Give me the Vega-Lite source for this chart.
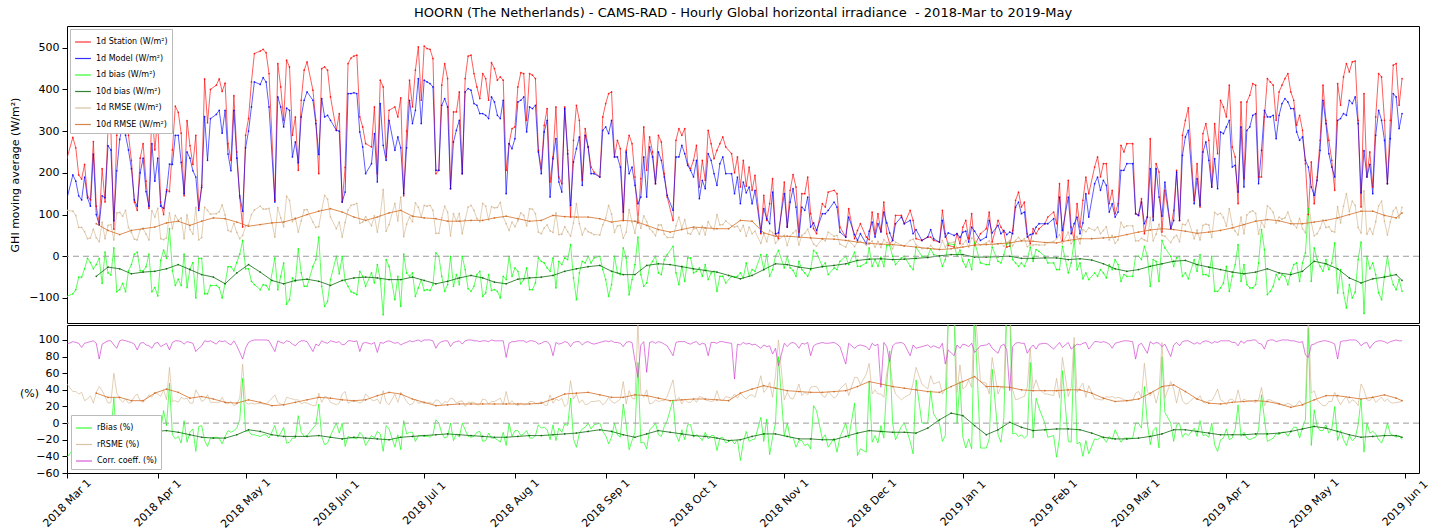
{
  "$schema": "https://vega.github.io/schema/vega-lite/v6.json",
  "padding": {"left": 9, "top": 6, "right": 0, "bottom": 0},
  "spacing": 0,
  "config": {
    "font": "DejaVu Sans",
    "view": {"stroke": "#000000", "strokeWidth": 1},
    "axis": {"domain": false, "grid": false, "tickColor": "#000000", "labelColor": "#000000", "labelFontSize": 11, "titleFontSize": 11, "titleFontWeight": "normal", "titleColor": "#000000", "tickSize": 5, "labelOverlap": false},
    "legend": {"labelFontSize": 8, "labelColor": "#000000"}
  },
  "datasets": {
    "daily": [
      {"d":"2018-03-01","s":235,"m":139,"b":-96,"r":110,"rb":-41,"rr":47,"c":95},
      {"d":"2018-03-03","s":285,"m":195,"b":-90,"r":108,"rb":-32,"rr":38,"c":98},
      {"d":"2018-03-04","s":260,"m":180,"b":-80,"r":98,"rb":-31,"rr":38,"c":97},
      {"d":"2018-03-05","s":195,"m":145,"b":-50,"r":69,"rb":-26,"rr":35,"c":96},
      {"d":"2018-03-06","s":185,"m":135,"b":-50,"r":69,"rb":-27,"rr":37,"c":91},
      {"d":"2018-03-07","s":220,"m":190,"b":-30,"r":59,"rb":-14,"rr":27,"c":96},
      {"d":"2018-03-08","s":145,"m":140,"b":-5,"r":42,"rb":-3,"rr":29,"c":97},
      {"d":"2018-03-09","s":135,"m":120,"b":-15,"r":44,"rb":-11,"rr":33,"c":98},
      {"d":"2018-03-10","s":275,"m":245,"b":-30,"r":65,"rb":-11,"rr":24,"c":99},
      {"d":"2018-03-11","s":120,"m":100,"b":-20,"r":44,"rb":-17,"rr":37,"c":96},
      {"d":"2018-03-12","s":80,"m":75,"b":-5,"r":35,"rb":-6,"rr":44,"c":77},
      {"d":"2018-03-13","s":210,"m":145,"b":-65,"r":82,"rb":-31,"rr":39,"c":95},
      {"d":"2018-03-14","s":130,"m":140,"b":10,"r":42,"rb":8,"rr":32,"c":97},
      {"d":"2018-03-15","s":305,"m":265,"b":-40,"r":74,"rb":-13,"rr":24,"c":99},
      {"d":"2018-03-16","s":300,"m":255,"b":-45,"r":76,"rb":-15,"rr":25,"c":99},
      {"d":"2018-03-17","s":65,"m":85,"b":20,"r":39,"rb":31,"rr":60,"c":94},
      {"d":"2018-03-18","s":290,"m":205,"b":-85,"r":104,"rb":-29,"rr":36,"c":90},
      {"d":"2018-03-19","s":360,"m":280,"b":-80,"r":105,"rb":-22,"rr":29,"c":99},
      {"d":"2018-03-20","s":380,"m":315,"b":-65,"r":96,"rb":-17,"rr":25,"c":100},
      {"d":"2018-03-21","s":375,"m":290,"b":-85,"r":110,"rb":-23,"rr":29,"c":99},
      {"d":"2018-03-22","s":290,"m":255,"b":-35,"r":69,"rb":-12,"rr":24,"c":98},
      {"d":"2018-03-23","s":230,"m":210,"b":-20,"r":57,"rb":-9,"rr":25,"c":97},
      {"d":"2018-03-24","s":130,"m":135,"b":5,"r":41,"rb":4,"rr":32,"c":95},
      {"d":"2018-03-25","s":110,"m":120,"b":10,"r":39,"rb":9,"rr":35,"c":88},
      {"d":"2018-03-26","s":235,"m":200,"b":-35,"r":64,"rb":-15,"rr":27,"c":96},
      {"d":"2018-03-27","s":270,"m":235,"b":-35,"r":67,"rb":-13,"rr":25,"c":97},
      {"d":"2018-03-28","s":180,"m":155,"b":-25,"r":53,"rb":-14,"rr":29,"c":94},
      {"d":"2018-03-29","s":115,"m":120,"b":5,"r":39,"rb":4,"rr":34,"c":93},
      {"d":"2018-03-30","s":355,"m":270,"b":-85,"r":109,"rb":-24,"rr":31,"c":90},
      {"d":"2018-03-31","s":255,"m":180,"b":-75,"r":94,"rb":-29,"rr":37,"c":96},
      {"d":"2018-04-01","s":330,"m":235,"b":-95,"r":115,"rb":-29,"rr":35,"c":97},
      {"d":"2018-04-02","s":130,"m":120,"b":-10,"r":42,"rb":-8,"rr":32,"c":92},
      {"d":"2018-04-03","s":100,"m":115,"b":15,"r":40,"rb":15,"rr":40,"c":94},
      {"d":"2018-04-04","s":160,"m":155,"b":-5,"r":44,"rb":-3,"rr":28,"c":96},
      {"d":"2018-04-05","s":155,"m":221,"b":66,"r":104,"rb":48,"rr":67,"c":88},
      {"d":"2018-04-06","s":255,"m":220,"b":-35,"r":66,"rb":-14,"rr":26,"c":97},
      {"d":"2018-04-07","s":360,"m":290,"b":-70,"r":98,"rb":-19,"rr":27,"c":99},
      {"d":"2018-04-08","s":345,"m":290,"b":-55,"r":86,"rb":-16,"rr":25,"c":99},
      {"d":"2018-04-09","s":295,"m":225,"b":-70,"r":92,"rb":-24,"rr":31,"c":98},
      {"d":"2018-04-10","s":145,"m":150,"b":5,"r":42,"rb":3,"rr":29,"c":95},
      {"d":"2018-04-11","s":325,"m":250,"b":-75,"r":99,"rb":-23,"rr":30,"c":98},
      {"d":"2018-04-12","s":265,"m":235,"b":-30,"r":64,"rb":-11,"rr":24,"c":97},
      {"d":"2018-04-13","s":220,"m":205,"b":-15,"r":53,"rb":-7,"rr":24,"c":96},
      {"d":"2018-04-14","s":290,"m":190,"b":-100,"r":117,"rb":-34,"rr":40,"c":86},
      {"d":"2018-04-15","s":115,"m":110,"b":-5,"r":39,"rb":-4,"rr":34,"c":90},
      {"d":"2018-04-16","s":170,"m":165,"b":-5,"r":45,"rb":-3,"rr":26,"c":93},
      {"d":"2018-04-17","s":425,"m":335,"b":-90,"r":118,"rb":-21,"rr":28,"c":99},
      {"d":"2018-04-18","s":320,"m":230,"b":-90,"r":110,"rb":-28,"rr":34,"c":98},
      {"d":"2018-04-19","s":400,"m":330,"b":-70,"r":101,"rb":-18,"rr":25,"c":99},
      {"d":"2018-04-21","s":410,"m":340,"b":-70,"r":102,"rb":-17,"rr":25,"c":95},
      {"d":"2018-04-22","s":425,"m":350,"b":-75,"r":107,"rb":-18,"rr":25,"c":99},
      {"d":"2018-04-23","s":395,"m":295,"b":-100,"r":123,"rb":-25,"rr":31,"c":98},
      {"d":"2018-04-24","s":415,"m":350,"b":-65,"r":99,"rb":-16,"rr":24,"c":99},
      {"d":"2018-04-25","s":270,"m":245,"b":-25,"r":62,"rb":-9,"rr":23,"c":96},
      {"d":"2018-04-26","s":230,"m":205,"b":-25,"r":59,"rb":-11,"rr":26,"c":94},
      {"d":"2018-04-27","s":385,"m":350,"b":-35,"r":79,"rb":-9,"rr":21,"c":99},
      {"d":"2018-04-28","s":250,"m":235,"b":-15,"r":57,"rb":-6,"rr":23,"c":93},
      {"d":"2018-04-29","s":140,"m":145,"b":5,"r":42,"rb":4,"rr":30,"c":85},
      {"d":"2018-04-30","s":70,"m":108,"b":38,"r":50,"rb":54,"rr":71,"c":77},
      {"d":"2018-05-01","s":290,"m":260,"b":-30,"r":72,"rb":-10,"rr":25,"c":90},
      {"d":"2018-05-02","s":330,"m":300,"b":-30,"r":76,"rb":-9,"rr":23,"c":97},
      {"d":"2018-05-03","s":418,"m":358,"b":-60,"r":100,"rb":-14,"rr":24,"c":99},
      {"d":"2018-05-04","s":486,"m":418,"b":-68,"r":111,"rb":-14,"rr":23,"c":100},
      {"d":"2018-05-06","s":492,"m":412,"b":-80,"r":120,"rb":-16,"rr":24,"c":100},
      {"d":"2018-05-07","s":496,"m":428,"b":-68,"r":113,"rb":-14,"rr":23,"c":100},
      {"d":"2018-05-08","s":488,"m":418,"b":-70,"r":113,"rb":-14,"rr":23,"c":100},
      {"d":"2018-05-09","s":438,"m":358,"b":-80,"r":115,"rb":-18,"rr":26,"c":99},
      {"d":"2018-05-11","s":134,"m":130,"b":-4,"r":46,"rb":-3,"rr":34,"c":86},
      {"d":"2018-05-12","s":462,"m":382,"b":-80,"r":117,"rb":-17,"rr":25,"c":99},
      {"d":"2018-05-13","s":406,"m":358,"b":-48,"r":92,"rb":-12,"rr":23,"c":97},
      {"d":"2018-05-14","s":326,"m":310,"b":-16,"r":71,"rb":-5,"rr":22,"c":96},
      {"d":"2018-05-15","s":470,"m":355,"b":-115,"r":144,"rb":-24,"rr":31,"c":99},
      {"d":"2018-05-16","s":454,"m":350,"b":-104,"r":134,"rb":-23,"rr":30,"c":98},
      {"d":"2018-05-17","s":290,"m":238,"b":-52,"r":83,"rb":-18,"rr":29,"c":95},
      {"d":"2018-05-18","s":334,"m":274,"b":-60,"r":92,"rb":-18,"rr":28,"c":93},
      {"d":"2018-05-19","s":206,"m":224,"b":18,"r":58,"rb":9,"rr":28,"c":97},
      {"d":"2018-05-20","s":374,"m":334,"b":-40,"r":85,"rb":-11,"rr":23,"c":99},
      {"d":"2018-05-21","s":446,"m":374,"b":-72,"r":111,"rb":-16,"rr":25,"c":99},
      {"d":"2018-05-22","s":466,"m":394,"b":-72,"r":112,"rb":-15,"rr":24,"c":98},
      {"d":"2018-05-24","s":398,"m":374,"b":-24,"r":82,"rb":-6,"rr":21,"c":86},
      {"d":"2018-05-25","s":326,"m":318,"b":-8,"r":69,"rb":-2,"rr":21,"c":95},
      {"d":"2018-05-26","s":198,"m":244,"b":46,"r":71,"rb":23,"rr":36,"c":93},
      {"d":"2018-05-27","s":450,"m":378,"b":-72,"r":111,"rb":-16,"rr":25,"c":99},
      {"d":"2018-05-28","s":454,"m":334,"b":-120,"r":146,"rb":-26,"rr":32,"c":97},
      {"d":"2018-05-29","s":446,"m":338,"b":-108,"r":137,"rb":-24,"rr":31,"c":96},
      {"d":"2018-05-30","s":382,"m":326,"b":-56,"r":94,"rb":-15,"rr":25,"c":99},
      {"d":"2018-06-01","s":302,"m":302,"b":0,"r":66,"rb":0,"rr":22,"c":97},
      {"d":"2018-06-02","s":342,"m":300,"b":-42,"r":82,"rb":-12,"rr":24,"c":98},
      {"d":"2018-06-03","s":130,"m":130,"b":0,"r":46,"rb":0,"rr":35,"c":94},
      {"d":"2018-06-04","s":213,"m":154,"b":-59,"r":81,"rb":-28,"rr":38,"c":95},
      {"d":"2018-06-05","s":462,"m":390,"b":-72,"r":111,"rb":-16,"rr":24,"c":99},
      {"d":"2018-06-06","s":475,"m":390,"b":-85,"r":122,"rb":-18,"rr":26,"c":99},
      {"d":"2018-06-07","s":480,"m":392,"b":-88,"r":124,"rb":-18,"rr":26,"c":98},
      {"d":"2018-06-08","s":482,"m":390,"b":-92,"r":127,"rb":-19,"rr":26,"c":99},
      {"d":"2018-06-09","s":334,"m":298,"b":-36,"r":79,"rb":-11,"rr":24,"c":86},
      {"d":"2018-06-10","s":310,"m":262,"b":-48,"r":82,"rb":-15,"rr":26,"c":96},
      {"d":"2018-06-11","s":270,"m":198,"b":-72,"r":95,"rb":-27,"rr":35,"c":97},
      {"d":"2018-06-13","s":262,"m":222,"b":-40,"r":73,"rb":-15,"rr":28,"c":95},
      {"d":"2018-06-14","s":358,"m":294,"b":-64,"r":97,"rb":-18,"rr":27,"c":97},
      {"d":"2018-06-15","s":198,"m":178,"b":-20,"r":58,"rb":-10,"rr":29,"c":85},
      {"d":"2018-06-16","s":422,"m":366,"b":-56,"r":98,"rb":-13,"rr":23,"c":97},
      {"d":"2018-06-17","s":406,"m":266,"b":-140,"r":160,"rb":-34,"rr":39,"c":96},
      {"d":"2018-06-18","s":238,"m":230,"b":-8,"r":60,"rb":-3,"rr":25,"c":98},
      {"d":"2018-06-19","s":350,"m":326,"b":-24,"r":76,"rb":-7,"rr":22,"c":99},
      {"d":"2018-06-21","s":358,"m":254,"b":-104,"r":127,"rb":-29,"rr":35,"c":96},
      {"d":"2018-06-22","s":334,"m":286,"b":-48,"r":85,"rb":-14,"rr":25,"c":97},
      {"d":"2018-06-23","s":380,"m":260,"b":-120,"r":142,"rb":-32,"rr":37,"c":94},
      {"d":"2018-06-24","s":145,"m":150,"b":5,"r":47,"rb":3,"rr":32,"c":96},
      {"d":"2018-06-25","s":300,"m":260,"b":-40,"r":77,"rb":-13,"rr":26,"c":97},
      {"d":"2018-06-26","s":422,"m":374,"b":-48,"r":94,"rb":-11,"rr":22,"c":99},
      {"d":"2018-06-27","s":358,"m":318,"b":-40,"r":83,"rb":-11,"rr":23,"c":98},
      {"d":"2018-06-28","s":446,"m":350,"b":-96,"r":128,"rb":-22,"rr":29,"c":99},
      {"d":"2018-06-29","s":502,"m":426,"b":-76,"r":118,"rb":-15,"rr":24,"c":100},
      {"d":"2018-06-30","s":374,"m":318,"b":-56,"r":94,"rb":-15,"rr":25,"c":98},
      {"d":"2018-07-01","s":504,"m":422,"b":-82,"r":122,"rb":-16,"rr":24,"c":100},
      {"d":"2018-07-02","s":498,"m":418,"b":-80,"r":120,"rb":-16,"rr":24,"c":100},
      {"d":"2018-07-03","s":496,"m":414,"b":-82,"r":122,"rb":-17,"rr":25,"c":100},
      {"d":"2018-07-04","s":474,"m":406,"b":-68,"r":110,"rb":-14,"rr":23,"c":99},
      {"d":"2018-07-05","s":198,"m":206,"b":8,"r":55,"rb":4,"rr":28,"c":90},
      {"d":"2018-07-06","s":206,"m":206,"b":0,"r":55,"rb":0,"rr":27,"c":96},
      {"d":"2018-07-07","s":410,"m":362,"b":-48,"r":92,"rb":-12,"rr":22,"c":98},
      {"d":"2018-07-08","s":462,"m":378,"b":-84,"r":120,"rb":-18,"rr":26,"c":99},
      {"d":"2018-07-09","s":426,"m":358,"b":-68,"r":106,"rb":-16,"rr":25,"c":99},
      {"d":"2018-07-10","s":162,"m":162,"b":0,"r":49,"rb":0,"rr":30,"c":92},
      {"d":"2018-07-11","s":346,"m":274,"b":-72,"r":102,"rb":-21,"rr":29,"c":97},
      {"d":"2018-07-12","s":346,"m":302,"b":-44,"r":84,"rb":-13,"rr":24,"c":98},
      {"d":"2018-07-13","s":394,"m":326,"b":-68,"r":103,"rb":-17,"rr":26,"c":99},
      {"d":"2018-07-14","s":198,"m":198,"b":0,"r":54,"rb":0,"rr":27,"c":95},
      {"d":"2018-07-15","s":426,"m":394,"b":-32,"r":87,"rb":-8,"rr":20,"c":99},
      {"d":"2018-07-16","s":480,"m":402,"b":-78,"r":118,"rb":-16,"rr":25,"c":100},
      {"d":"2018-07-17","s":482,"m":398,"b":-84,"r":122,"rb":-17,"rr":25,"c":100},
      {"d":"2018-07-18","s":438,"m":366,"b":-72,"r":110,"rb":-16,"rr":25,"c":99},
      {"d":"2018-07-19","s":406,"m":362,"b":-44,"r":90,"rb":-11,"rr":22,"c":99},
      {"d":"2018-07-20","s":378,"m":342,"b":-36,"r":83,"rb":-10,"rr":22,"c":98},
      {"d":"2018-07-21","s":438,"m":342,"b":-96,"r":127,"rb":-22,"rr":29,"c":99},
      {"d":"2018-07-22","s":426,"m":338,"b":-88,"r":120,"rb":-21,"rr":28,"c":99},
      {"d":"2018-07-23","s":374,"m":330,"b":-44,"r":87,"rb":-12,"rr":23,"c":98},
      {"d":"2018-07-24","s":464,"m":382,"b":-82,"r":119,"rb":-18,"rr":26,"c":100},
      {"d":"2018-07-25","s":450,"m":370,"b":-80,"r":116,"rb":-18,"rr":26,"c":99},
      {"d":"2018-07-26","s":422,"m":338,"b":-84,"r":117,"rb":-20,"rr":28,"c":99},
      {"d":"2018-07-27","s":430,"m":330,"b":-100,"r":129,"rb":-23,"rr":30,"c":99},
      {"d":"2018-07-28","s":422,"m":374,"b":-48,"r":94,"rb":-11,"rr":22,"c":99},
      {"d":"2018-07-29","s":206,"m":150,"b":-56,"r":78,"rb":-27,"rr":38,"c":79},
      {"d":"2018-07-30","s":270,"m":270,"b":0,"r":62,"rb":0,"rr":23,"c":96},
      {"d":"2018-07-31","s":306,"m":258,"b":-48,"r":82,"rb":-16,"rr":27,"c":98},
      {"d":"2018-08-01","s":310,"m":282,"b":-28,"r":71,"rb":-9,"rr":23,"c":98},
      {"d":"2018-08-02","s":406,"m":370,"b":-36,"r":85,"rb":-9,"rr":21,"c":99},
      {"d":"2018-08-03","s":440,"m":374,"b":-66,"r":104,"rb":-15,"rr":24,"c":99},
      {"d":"2018-08-04","s":438,"m":382,"b":-56,"r":98,"rb":-13,"rr":22,"c":99},
      {"d":"2018-08-05","s":326,"m":298,"b":-28,"r":73,"rb":-9,"rr":22,"c":97},
      {"d":"2018-08-06","s":438,"m":358,"b":-80,"r":114,"rb":-18,"rr":26,"c":99},
      {"d":"2018-08-07","s":434,"m":354,"b":-80,"r":113,"rb":-18,"rr":26,"c":99},
      {"d":"2018-08-08","s":426,"m":362,"b":-64,"r":102,"rb":-15,"rr":24,"c":98},
      {"d":"2018-08-09","s":254,"m":250,"b":-4,"r":58,"rb":-2,"rr":23,"c":95},
      {"d":"2018-08-10","s":210,"m":198,"b":-12,"r":54,"rb":-6,"rr":26,"c":96},
      {"d":"2018-08-11","s":314,"m":298,"b":-16,"r":68,"rb":-5,"rr":22,"c":98},
      {"d":"2018-08-12","s":354,"m":326,"b":-28,"r":75,"rb":-8,"rr":21,"c":98},
      {"d":"2018-08-13","s":178,"m":142,"b":-36,"r":61,"rb":-20,"rr":34,"c":94},
      {"d":"2018-08-14","s":238,"m":234,"b":-4,"r":57,"rb":-2,"rr":24,"c":81},
      {"d":"2018-08-15","s":358,"m":282,"b":-76,"r":104,"rb":-21,"rr":29,"c":97},
      {"d":"2018-08-16","s":190,"m":178,"b":-12,"r":52,"rb":-6,"rr":27,"c":95},
      {"d":"2018-08-17","s":174,"m":154,"b":-20,"r":53,"rb":-11,"rr":30,"c":96},
      {"d":"2018-08-18","s":358,"m":354,"b":-4,"r":71,"rb":-1,"rr":20,"c":98},
      {"d":"2018-08-19","s":254,"m":246,"b":-8,"r":59,"rb":-3,"rr":23,"c":97},
      {"d":"2018-08-20","s":94,"m":122,"b":28,"r":48,"rb":30,"rr":51,"c":92},
      {"d":"2018-08-21","s":278,"m":226,"b":-52,"r":80,"rb":-19,"rr":29,"c":97},
      {"d":"2018-08-22","s":362,"m":258,"b":-104,"r":126,"rb":-29,"rr":35,"c":98},
      {"d":"2018-08-23","s":326,"m":286,"b":-40,"r":78,"rb":-12,"rr":24,"c":98},
      {"d":"2018-08-24","s":182,"m":170,"b":-12,"r":51,"rb":-7,"rr":28,"c":94},
      {"d":"2018-08-25","s":306,"m":290,"b":-16,"r":67,"rb":-5,"rr":22,"c":97},
      {"d":"2018-08-26","s":262,"m":262,"b":0,"r":59,"rb":0,"rr":23,"c":98},
      {"d":"2018-08-27","s":214,"m":198,"b":-16,"r":56,"rb":-7,"rr":26,"c":96},
      {"d":"2018-08-28","s":202,"m":198,"b":-4,"r":52,"rb":-2,"rr":26,"c":95},
      {"d":"2018-08-30","s":190,"m":190,"b":0,"r":51,"rb":0,"rr":27,"c":97},
      {"d":"2018-08-31","s":334,"m":302,"b":-32,"r":75,"rb":-10,"rr":22,"c":98},
      {"d":"2018-09-01","s":366,"m":310,"b":-56,"r":91,"rb":-15,"rr":25,"c":99},
      {"d":"2018-09-02","s":390,"m":294,"b":-96,"r":122,"rb":-25,"rr":31,"c":98},
      {"d":"2018-09-03","s":394,"m":326,"b":-68,"r":101,"rb":-17,"rr":26,"c":99},
      {"d":"2018-09-04","s":238,"m":238,"b":0,"r":57,"rb":0,"rr":24,"c":97},
      {"d":"2018-09-05","s":278,"m":238,"b":-40,"r":73,"rb":-14,"rr":26,"c":97},
      {"d":"2018-09-06","s":258,"m":214,"b":-44,"r":74,"rb":-17,"rr":29,"c":96},
      {"d":"2018-09-07","s":86,"m":106,"b":20,"r":43,"rb":23,"rr":50,"c":92},
      {"d":"2018-09-08","s":254,"m":250,"b":-4,"r":58,"rb":-2,"rr":23,"c":97},
      {"d":"2018-09-09","s":290,"m":198,"b":-92,"r":112,"rb":-32,"rr":39,"c":98},
      {"d":"2018-09-10","s":270,"m":214,"b":-56,"r":82,"rb":-21,"rr":30,"c":97},
      {"d":"2018-09-11","s":190,"m":170,"b":-20,"r":55,"rb":-11,"rr":29,"c":75},
      {"d":"2018-09-12","s":80,"m":126,"b":46,"r":96,"rb":73,"rr":120,"c":55},
      {"d":"2018-09-13","s":186,"m":142,"b":-44,"r":67,"rb":-24,"rr":36,"c":94},
      {"d":"2018-09-14","s":310,"m":238,"b":-72,"r":97,"rb":-23,"rr":31,"c":98},
      {"d":"2018-09-15","s":206,"m":142,"b":-64,"r":83,"rb":-31,"rr":40,"c":61},
      {"d":"2018-09-16","s":286,"m":262,"b":-24,"r":66,"rb":-8,"rr":23,"c":97},
      {"d":"2018-09-17","s":250,"m":238,"b":-12,"r":59,"rb":-5,"rr":24,"c":98},
      {"d":"2018-09-18","s":174,"m":174,"b":0,"r":49,"rb":0,"rr":28,"c":96},
      {"d":"2018-09-19","s":290,"m":250,"b":-40,"r":75,"rb":-14,"rr":26,"c":98},
      {"d":"2018-09-20","s":274,"m":230,"b":-44,"r":75,"rb":-16,"rr":27,"c":97},
      {"d":"2018-09-21","s":198,"m":190,"b":-8,"r":53,"rb":-4,"rr":27,"c":95},
      {"d":"2018-09-22","s":142,"m":146,"b":4,"r":45,"rb":3,"rr":32,"c":93},
      {"d":"2018-09-24","s":86,"m":110,"b":24,"r":45,"rb":28,"rr":52,"c":81},
      {"d":"2018-09-25","s":278,"m":238,"b":-40,"r":73,"rb":-14,"rr":26,"c":97},
      {"d":"2018-09-26","s":306,"m":238,"b":-68,"r":94,"rb":-22,"rr":31,"c":98},
      {"d":"2018-09-27","s":290,"m":266,"b":-24,"r":67,"rb":-8,"rr":23,"c":98},
      {"d":"2018-09-28","s":306,"m":246,"b":-60,"r":88,"rb":-20,"rr":29,"c":98},
      {"d":"2018-09-29","s":222,"m":218,"b":-4,"r":55,"rb":-2,"rr":25,"c":96},
      {"d":"2018-09-30","s":210,"m":206,"b":-4,"r":53,"rb":-2,"rr":25,"c":95},
      {"d":"2018-10-01","s":230,"m":190,"b":-40,"r":66,"rb":-17,"rr":29,"c":97},
      {"d":"2018-10-02","s":266,"m":230,"b":-36,"r":67,"rb":-14,"rr":25,"c":98},
      {"d":"2018-10-03","s":166,"m":138,"b":-28,"r":53,"rb":-17,"rr":32,"c":94},
      {"d":"2018-10-04","s":230,"m":182,"b":-48,"r":72,"rb":-21,"rr":31,"c":96},
      {"d":"2018-10-05","s":182,"m":162,"b":-20,"r":51,"rb":-11,"rr":28,"c":95},
      {"d":"2018-10-06","s":302,"m":246,"b":-56,"r":83,"rb":-19,"rr":27,"c":81},
      {"d":"2018-10-07","s":270,"m":230,"b":-40,"r":70,"rb":-15,"rr":26,"c":97},
      {"d":"2018-10-08","s":234,"m":198,"b":-36,"r":64,"rb":-15,"rr":27,"c":97},
      {"d":"2018-10-09","s":254,"m":170,"b":-84,"r":100,"rb":-33,"rr":39,"c":96},
      {"d":"2018-10-10","s":270,"m":222,"b":-48,"r":75,"rb":-18,"rr":28,"c":98},
      {"d":"2018-10-11","s":286,"m":238,"b":-48,"r":76,"rb":-17,"rr":27,"c":98},
      {"d":"2018-10-12","s":262,"m":198,"b":-64,"r":85,"rb":-24,"rr":32,"c":97},
      {"d":"2018-10-14","s":246,"m":198,"b":-48,"r":73,"rb":-20,"rr":30,"c":96},
      {"d":"2018-10-15","s":200,"m":150,"b":-50,"r":70,"rb":-25,"rr":35,"c":53},
      {"d":"2018-10-16","s":238,"m":190,"b":-48,"r":72,"rb":-20,"rr":30,"c":95},
      {"d":"2018-10-17","s":166,"m":126,"b":-40,"r":60,"rb":-45,"rr":36,"c":94},
      {"d":"2018-10-18","s":230,"m":178,"b":-52,"r":74,"rb":-23,"rr":32,"c":97},
      {"d":"2018-10-19","s":168,"m":152,"b":-16,"r":48,"rb":-10,"rr":29,"c":95},
      {"d":"2018-10-20","s":214,"m":166,"b":-48,"r":70,"rb":-22,"rr":33,"c":96},
      {"d":"2018-10-21","s":158,"m":126,"b":-32,"r":54,"rb":-20,"rr":34,"c":94},
      {"d":"2018-10-22","s":194,"m":158,"b":-36,"r":60,"rb":-19,"rr":31,"c":95},
      {"d":"2018-10-24","s":54,"m":58,"b":4,"r":31,"rb":7,"rr":57,"c":90},
      {"d":"2018-10-25","s":146,"m":114,"b":-32,"r":54,"rb":-22,"rr":37,"c":94},
      {"d":"2018-10-26","s":86,"m":90,"b":4,"r":35,"rb":5,"rr":41,"c":92},
      {"d":"2018-10-27","s":126,"m":78,"b":-48,"r":62,"rb":-38,"rr":49,"c":93},
      {"d":"2018-10-28","s":186,"m":154,"b":-32,"r":57,"rb":-17,"rr":31,"c":83},
      {"d":"2018-10-29","s":54,"m":54,"b":0,"r":31,"rb":0,"rr":57,"c":90},
      {"d":"2018-10-30","s":42,"m":56,"b":14,"r":40,"rb":80,"rr":100,"c":69},
      {"d":"2018-11-01","s":178,"m":150,"b":-28,"r":50,"rb":-16,"rr":28,"c":96},
      {"d":"2018-11-02","s":70,"m":70,"b":0,"r":26,"rb":0,"rr":37,"c":92},
      {"d":"2018-11-03","s":158,"m":130,"b":-28,"r":48,"rb":-18,"rr":30,"c":96},
      {"d":"2018-11-04","s":196,"m":162,"b":-34,"r":56,"rb":-17,"rr":29,"c":97},
      {"d":"2018-11-05","s":166,"m":118,"b":-48,"r":62,"rb":-29,"rr":37,"c":95},
      {"d":"2018-11-06","s":58,"m":46,"b":-12,"r":27,"rb":-21,"rr":47,"c":90},
      {"d":"2018-11-07","s":150,"m":118,"b":-32,"r":50,"rb":-21,"rr":33,"c":96},
      {"d":"2018-11-08","s":150,"m":110,"b":-40,"r":55,"rb":-27,"rr":37,"c":95},
      {"d":"2018-11-09","s":190,"m":142,"b":-48,"r":65,"rb":-25,"rr":34,"c":97},
      {"d":"2018-11-10","s":102,"m":70,"b":-32,"r":44,"rb":-31,"rr":43,"c":81},
      {"d":"2018-11-11","s":66,"m":80,"b":14,"r":29,"rb":21,"rr":44,"c":93},
      {"d":"2018-11-12","s":54,"m":62,"b":8,"r":24,"rb":15,"rr":44,"c":95},
      {"d":"2018-11-14","s":126,"m":102,"b":-24,"r":42,"rb":-19,"rr":33,"c":97},
      {"d":"2018-11-15","s":118,"m":102,"b":-16,"r":37,"rb":-14,"rr":31,"c":96},
      {"d":"2018-11-16","s":154,"m":110,"b":-44,"r":58,"rb":-29,"rr":38,"c":96},
      {"d":"2018-11-18","s":158,"m":130,"b":-28,"r":48,"rb":-18,"rr":30,"c":97},
      {"d":"2018-11-19","s":150,"m":118,"b":-32,"r":50,"rb":-35,"rr":33,"c":95},
      {"d":"2018-11-20","s":70,"m":58,"b":-12,"r":29,"rb":-17,"rr":41,"c":92},
      {"d":"2018-11-22","s":46,"m":46,"b":0,"r":22,"rb":0,"rr":48,"c":71},
      {"d":"2018-11-23","s":114,"m":94,"b":-20,"r":38,"rb":-18,"rr":33,"c":96},
      {"d":"2018-11-25","s":42,"m":52,"b":10,"r":23,"rb":24,"rr":55,"c":90},
      {"d":"2018-11-26","s":62,"m":38,"b":-24,"r":34,"rb":-39,"rr":55,"c":93},
      {"d":"2018-11-27","s":78,"m":54,"b":-24,"r":36,"rb":-31,"rr":46,"c":94},
      {"d":"2018-11-29","s":46,"m":30,"b":-16,"r":27,"rb":-35,"rr":59,"c":92},
      {"d":"2018-11-30","s":40,"m":60,"b":20,"r":29,"rb":50,"rr":72,"c":88},
      {"d":"2018-12-01","s":106,"m":82,"b":-24,"r":37,"rb":-23,"rr":35,"c":96},
      {"d":"2018-12-02","s":54,"m":46,"b":-8,"r":22,"rb":-15,"rr":40,"c":93},
      {"d":"2018-12-03","s":102,"m":78,"b":-24,"r":36,"rb":-24,"rr":35,"c":95},
      {"d":"2018-12-04","s":60,"m":58,"b":-2,"r":21,"rb":-3,"rr":35,"c":43},
      {"d":"2018-12-05","s":130,"m":106,"b":-24,"r":40,"rb":-18,"rr":31,"c":97},
      {"d":"2018-12-06","s":54,"m":80,"b":26,"r":33,"rb":48,"rr":61,"c":92},
      {"d":"2018-12-07","s":30,"m":56,"b":26,"r":31,"rb":87,"rr":75,"c":74},
      {"d":"2018-12-08","s":38,"m":38,"b":0,"r":18,"rb":0,"rr":47,"c":93},
      {"d":"2018-12-09","s":98,"m":78,"b":-20,"r":34,"rb":-20,"rr":35,"c":96},
      {"d":"2018-12-11","s":98,"m":94,"b":-4,"r":27,"rb":-4,"rr":28,"c":97},
      {"d":"2018-12-12","s":78,"m":78,"b":0,"r":24,"rb":0,"rr":31,"c":95},
      {"d":"2018-12-14","s":110,"m":86,"b":-24,"r":38,"rb":-22,"rr":35,"c":81},
      {"d":"2018-12-15","s":86,"m":54,"b":-32,"r":41,"rb":-37,"rr":48,"c":94},
      {"d":"2018-12-16","s":42,"m":64,"b":22,"r":28,"rb":52,"rr":67,"c":90},
      {"d":"2018-12-18","s":38,"m":38,"b":0,"r":18,"rb":0,"rr":47,"c":92},
      {"d":"2018-12-20","s":46,"m":46,"b":0,"r":19,"rb":0,"rr":41,"c":94},
      {"d":"2018-12-21","s":46,"m":64,"b":18,"r":26,"rb":39,"rr":57,"c":91},
      {"d":"2018-12-22","s":38,"m":42,"b":4,"r":18,"rb":11,"rr":47,"c":93},
      {"d":"2018-12-24","s":34,"m":34,"b":0,"r":17,"rb":0,"rr":50,"c":90},
      {"d":"2018-12-25","s":110,"m":86,"b":-24,"r":38,"rb":-22,"rr":35,"c":96},
      {"d":"2018-12-26","s":54,"m":46,"b":-8,"r":22,"rb":-15,"rr":41,"c":71},
      {"d":"2018-12-27","s":26,"m":56,"b":30,"r":33,"rb":125,"rr":127,"c":88},
      {"d":"2018-12-29","s":22,"m":50,"b":28,"r":34,"rb":127,"rr":155,"c":81},
      {"d":"2018-12-30","s":54,"m":54,"b":0,"r":20,"rb":0,"rr":37,"c":94},
      {"d":"2018-12-31","s":30,"m":45,"b":15,"r":21,"rb":50,"rr":70,"c":90},
      {"d":"2019-01-01","s":70,"m":58,"b":-12,"r":29,"rb":-17,"rr":41,"c":95},
      {"d":"2019-01-02","s":86,"m":60,"b":-26,"r":38,"rb":-30,"rr":44,"c":94},
      {"d":"2019-01-03","s":42,"m":34,"b":-8,"r":22,"rb":-19,"rr":52,"c":92},
      {"d":"2019-01-04","s":102,"m":70,"b":-32,"r":44,"rb":-31,"rr":43,"c":96},
      {"d":"2019-01-05","s":26,"m":60,"b":34,"r":38,"rb":131,"rr":146,"c":85},
      {"d":"2019-01-07","s":54,"m":38,"b":-16,"r":27,"rb":-30,"rr":50,"c":93},
      {"d":"2019-01-09","s":66,"m":46,"b":-20,"r":32,"rb":-30,"rr":48,"c":94},
      {"d":"2019-01-10","s":106,"m":86,"b":-20,"r":37,"rb":-19,"rr":35,"c":96},
      {"d":"2019-01-11","s":34,"m":56,"b":22,"r":27,"rb":65,"rr":79,"c":90},
      {"d":"2019-01-13","s":86,"m":74,"b":-12,"r":30,"rb":-14,"rr":35,"c":84},
      {"d":"2019-01-14","s":70,"m":54,"b":-16,"r":31,"rb":-23,"rr":44,"c":93},
      {"d":"2019-01-15","s":58,"m":62,"b":4,"r":24,"rb":7,"rr":41,"c":95},
      {"d":"2019-01-16","s":22,"m":52,"b":30,"r":33,"rb":136,"rr":150,"c":88},
      {"d":"2019-01-17","s":24,"m":58,"b":34,"r":38,"rb":142,"rr":158,"c":39},
      {"d":"2019-01-18","s":62,"m":54,"b":-8,"r":25,"rb":-13,"rr":40,"c":92},
      {"d":"2019-01-19","s":134,"m":118,"b":-16,"r":38,"rb":-12,"rr":28,"c":96},
      {"d":"2019-01-20","s":154,"m":130,"b":-24,"r":45,"rb":-16,"rr":29,"c":97},
      {"d":"2019-01-21","s":118,"m":102,"b":-16,"r":37,"rb":-14,"rr":31,"c":96},
      {"d":"2019-01-22","s":130,"m":106,"b":-24,"r":42,"rb":-18,"rr":32,"c":96},
      {"d":"2019-01-23","s":54,"m":46,"b":-8,"r":23,"rb":-15,"rr":43,"c":84},
      {"d":"2019-01-24","s":30,"m":52,"b":22,"r":27,"rb":73,"rr":90,"c":90},
      {"d":"2019-01-25","s":66,"m":54,"b":-12,"r":27,"rb":-18,"rr":41,"c":94},
      {"d":"2019-01-26","s":54,"m":70,"b":16,"r":28,"rb":30,"rr":52,"c":89},
      {"d":"2019-01-27","s":66,"m":78,"b":12,"r":27,"rb":18,"rr":41,"c":95},
      {"d":"2019-01-29","s":78,"m":78,"b":0,"r":27,"rb":0,"rr":35,"c":96},
      {"d":"2019-01-30","s":94,"m":78,"b":-16,"r":33,"rb":-17,"rr":35,"c":95},
      {"d":"2019-02-01","s":106,"m":90,"b":-16,"r":35,"rb":-15,"rr":33,"c":89},
      {"d":"2019-02-02","s":78,"m":46,"b":-32,"r":42,"rb":-41,"rr":54,"c":93},
      {"d":"2019-02-03","s":174,"m":142,"b":-32,"r":52,"rb":-18,"rr":30,"c":97},
      {"d":"2019-02-04","s":38,"m":62,"b":24,"r":30,"rb":63,"rr":79,"c":91},
      {"d":"2019-02-06","s":182,"m":142,"b":-40,"r":58,"rb":-22,"rr":32,"c":97},
      {"d":"2019-02-07","s":70,"m":54,"b":-16,"r":30,"rb":-23,"rr":43,"c":89},
      {"d":"2019-02-08","s":40,"m":78,"b":38,"r":41,"rb":95,"rr":103,"c":92},
      {"d":"2019-02-09","s":126,"m":94,"b":-32,"r":47,"rb":-25,"rr":37,"c":95},
      {"d":"2019-02-10","s":70,"m":54,"b":-16,"r":30,"rb":-23,"rr":43,"c":94},
      {"d":"2019-02-11","s":134,"m":80,"b":-54,"r":64,"rb":-40,"rr":48,"c":96},
      {"d":"2019-02-12","s":190,"m":150,"b":-40,"r":59,"rb":-21,"rr":31,"c":97},
      {"d":"2019-02-13","s":150,"m":94,"b":-56,"r":68,"rb":-37,"rr":45,"c":89},
      {"d":"2019-02-15","s":214,"m":174,"b":-40,"r":62,"rb":-19,"rr":29,"c":98},
      {"d":"2019-02-16","s":238,"m":190,"b":-48,"r":70,"rb":-20,"rr":29,"c":98},
      {"d":"2019-02-17","s":190,"m":158,"b":-32,"r":54,"rb":-17,"rr":28,"c":97},
      {"d":"2019-02-18","s":222,"m":182,"b":-40,"r":62,"rb":-18,"rr":28,"c":98},
      {"d":"2019-02-19","s":222,"m":170,"b":-52,"r":71,"rb":-23,"rr":32,"c":97},
      {"d":"2019-02-20","s":126,"m":106,"b":-20,"r":39,"rb":-16,"rr":31,"c":95},
      {"d":"2019-02-21","s":158,"m":126,"b":-32,"r":50,"rb":-20,"rr":32,"c":90},
      {"d":"2019-02-22","s":102,"m":94,"b":-8,"r":31,"rb":-8,"rr":30,"c":96},
      {"d":"2019-02-23","s":126,"m":106,"b":-20,"r":39,"rb":-16,"rr":31,"c":97},
      {"d":"2019-02-24","s":266,"m":206,"b":-60,"r":81,"rb":-23,"rr":30,"c":98},
      {"d":"2019-02-25","s":250,"m":206,"b":-44,"r":69,"rb":-18,"rr":28,"c":99},
      {"d":"2019-02-26","s":270,"m":222,"b":-48,"r":73,"rb":-18,"rr":27,"c":99},
      {"d":"2019-02-28","s":270,"m":222,"b":-48,"r":73,"rb":-18,"rr":27,"c":98},
      {"d":"2019-03-01","s":102,"m":102,"b":0,"r":37,"rb":0,"rr":36,"c":77},
      {"d":"2019-03-02","s":98,"m":98,"b":0,"r":37,"rb":0,"rr":38,"c":94},
      {"d":"2019-03-03","s":138,"m":130,"b":-8,"r":43,"rb":-6,"rr":31,"c":96},
      {"d":"2019-03-04","s":54,"m":78,"b":24,"r":39,"rb":44,"rr":72,"c":90},
      {"d":"2019-03-05","s":94,"m":94,"b":0,"r":36,"rb":0,"rr":38,"c":84},
      {"d":"2019-03-06","s":282,"m":210,"b":-72,"r":93,"rb":-26,"rr":33,"c":98},
      {"d":"2019-03-07","s":94,"m":86,"b":-8,"r":37,"rb":-9,"rr":39,"c":95},
      {"d":"2019-03-08","s":222,"m":210,"b":-12,"r":53,"rb":-5,"rr":24,"c":97},
      {"d":"2019-03-09","s":202,"m":142,"b":-60,"r":77,"rb":-30,"rr":38,"c":96},
      {"d":"2019-03-10","s":58,"m":96,"b":38,"r":50,"rb":80,"rr":97,"c":92},
      {"d":"2019-03-11","s":158,"m":178,"b":20,"r":48,"rb":13,"rr":30,"c":95},
      {"d":"2019-03-13","s":66,"m":66,"b":0,"r":33,"rb":0,"rr":50,"c":80},
      {"d":"2019-03-14","s":110,"m":86,"b":-24,"r":45,"rb":-22,"rr":41,"c":94},
      {"d":"2019-03-15","s":206,"m":202,"b":-4,"r":50,"rb":-2,"rr":24,"c":97},
      {"d":"2019-03-16","s":86,"m":86,"b":0,"r":35,"rb":0,"rr":41,"c":93},
      {"d":"2019-03-17","s":290,"m":242,"b":-48,"r":77,"rb":-17,"rr":27,"c":98},
      {"d":"2019-03-18","s":326,"m":286,"b":-40,"r":75,"rb":-12,"rr":23,"c":99},
      {"d":"2019-03-19","s":356,"m":302,"b":-54,"r":87,"rb":-15,"rr":24,"c":99},
      {"d":"2019-03-21","s":134,"m":126,"b":-8,"r":42,"rb":-6,"rr":31,"c":95},
      {"d":"2019-03-22","s":222,"m":186,"b":-36,"r":63,"rb":-16,"rr":28,"c":97},
      {"d":"2019-03-23","s":118,"m":122,"b":4,"r":39,"rb":3,"rr":33,"c":95},
      {"d":"2019-03-24","s":294,"m":250,"b":-44,"r":74,"rb":-15,"rr":25,"c":98},
      {"d":"2019-03-25","s":318,"m":274,"b":-44,"r":77,"rb":-14,"rr":24,"c":99},
      {"d":"2019-03-26","s":278,"m":230,"b":-48,"r":75,"rb":-17,"rr":27,"c":98},
      {"d":"2019-03-27","s":166,"m":166,"b":0,"r":45,"rb":0,"rr":27,"c":96},
      {"d":"2019-03-28","s":318,"m":234,"b":-84,"r":105,"rb":-26,"rr":33,"c":98},
      {"d":"2019-03-29","s":246,"m":162,"b":-84,"r":100,"rb":-34,"rr":41,"c":97},
      {"d":"2019-03-30","s":374,"m":298,"b":-76,"r":103,"rb":-20,"rr":28,"c":99},
      {"d":"2019-03-31","s":358,"m":294,"b":-64,"r":93,"rb":-18,"rr":26,"c":99},
      {"d":"2019-04-01","s":334,"m":310,"b":-24,"r":72,"rb":-7,"rr":22,"c":99},
      {"d":"2019-04-02","s":410,"m":326,"b":-84,"r":114,"rb":-20,"rr":28,"c":99},
      {"d":"2019-04-03","s":262,"m":214,"b":-48,"r":76,"rb":-18,"rr":29,"c":97},
      {"d":"2019-04-04","s":238,"m":218,"b":-20,"r":60,"rb":-8,"rr":25,"c":97},
      {"d":"2019-04-05","s":126,"m":154,"b":28,"r":51,"rb":22,"rr":40,"c":93},
      {"d":"2019-04-06","s":370,"m":310,"b":-60,"r":94,"rb":-16,"rr":25,"c":99},
      {"d":"2019-04-07","s":186,"m":166,"b":-20,"r":54,"rb":-11,"rr":29,"c":96},
      {"d":"2019-04-08","s":370,"m":302,"b":-68,"r":99,"rb":-18,"rr":27,"c":99},
      {"d":"2019-04-09","s":386,"m":310,"b":-76,"r":106,"rb":-20,"rr":27,"c":99},
      {"d":"2019-04-10","s":414,"m":338,"b":-76,"r":109,"rb":-18,"rr":26,"c":100},
      {"d":"2019-04-11","s":410,"m":342,"b":-68,"r":103,"rb":-17,"rr":25,"c":100},
      {"d":"2019-04-12","s":190,"m":174,"b":-16,"r":53,"rb":-8,"rr":28,"c":96},
      {"d":"2019-04-13","s":190,"m":254,"b":64,"r":82,"rb":34,"rr":43,"c":95},
      {"d":"2019-04-14","s":334,"m":350,"b":16,"r":70,"rb":5,"rr":21,"c":89},
      {"d":"2019-04-15","s":426,"m":334,"b":-92,"r":121,"rb":-22,"rr":28,"c":99},
      {"d":"2019-04-16","s":418,"m":334,"b":-84,"r":115,"rb":-20,"rr":28,"c":100},
      {"d":"2019-04-17","s":410,"m":338,"b":-72,"r":105,"rb":-18,"rr":26,"c":100},
      {"d":"2019-04-18","s":326,"m":282,"b":-44,"r":80,"rb":-13,"rr":25,"c":98},
      {"d":"2019-04-19","s":394,"m":338,"b":-56,"r":94,"rb":-14,"rr":24,"c":99},
      {"d":"2019-04-20","s":410,"m":366,"b":-44,"r":89,"rb":-11,"rr":22,"c":100},
      {"d":"2019-04-21","s":426,"m":378,"b":-48,"r":92,"rb":-11,"rr":22,"c":100},
      {"d":"2019-04-22","s":438,"m":370,"b":-68,"r":106,"rb":-16,"rr":24,"c":100},
      {"d":"2019-04-23","s":394,"m":354,"b":-40,"r":85,"rb":-10,"rr":22,"c":99},
      {"d":"2019-04-24","s":374,"m":354,"b":-20,"r":76,"rb":-5,"rr":20,"c":99},
      {"d":"2019-04-25","s":314,"m":298,"b":-16,"r":68,"rb":-5,"rr":22,"c":98},
      {"d":"2019-04-26","s":338,"m":278,"b":-60,"r":91,"rb":-18,"rr":27,"c":97},
      {"d":"2019-04-27","s":302,"m":286,"b":-16,"r":66,"rb":-5,"rr":22,"c":98},
      {"d":"2019-04-28","s":222,"m":230,"b":8,"r":56,"rb":4,"rr":25,"c":82},
      {"d":"2019-04-29","s":100,"m":214,"b":114,"r":129,"rb":114,"rr":129,"c":79},
      {"d":"2019-04-30","s":226,"m":166,"b":-60,"r":81,"rb":-27,"rr":36,"c":94},
      {"d":"2019-05-01","s":126,"m":146,"b":20,"r":49,"rb":16,"rr":39,"c":95},
      {"d":"2019-05-02","s":190,"m":182,"b":-8,"r":54,"rb":-4,"rr":28,"c":97},
      {"d":"2019-05-03","s":278,"m":254,"b":-24,"r":67,"rb":-9,"rr":24,"c":98},
      {"d":"2019-05-04","s":410,"m":374,"b":-36,"r":87,"rb":-9,"rr":21,"c":99},
      {"d":"2019-05-05","s":326,"m":318,"b":-8,"r":69,"rb":-2,"rr":21,"c":99},
      {"d":"2019-05-06","s":278,"m":246,"b":-32,"r":71,"rb":-12,"rr":26,"c":98},
      {"d":"2019-05-07","s":230,"m":214,"b":-16,"r":60,"rb":-7,"rr":26,"c":97},
      {"d":"2019-05-08","s":158,"m":190,"b":32,"r":58,"rb":20,"rr":37,"c":95},
      {"d":"2019-05-09","s":414,"m":326,"b":-88,"r":119,"rb":-21,"rr":29,"c":77},
      {"d":"2019-05-10","s":362,"m":330,"b":-32,"r":80,"rb":-9,"rr":22,"c":98},
      {"d":"2019-05-11","s":430,"m":342,"b":-88,"r":120,"rb":-20,"rr":28,"c":99},
      {"d":"2019-05-12","s":462,"m":338,"b":-124,"r":150,"rb":-27,"rr":32,"c":99},
      {"d":"2019-05-13","s":442,"m":374,"b":-68,"r":107,"rb":-15,"rr":24,"c":100},
      {"d":"2019-05-14","s":466,"m":366,"b":-100,"r":132,"rb":-21,"rr":28,"c":100},
      {"d":"2019-05-15","s":468,"m":382,"b":-86,"r":122,"rb":-18,"rr":26,"c":100},
      {"d":"2019-05-16","s":326,"m":318,"b":-8,"r":69,"rb":-2,"rr":21,"c":98},
      {"d":"2019-05-17","s":118,"m":152,"b":34,"r":56,"rb":29,"rr":47,"c":93},
      {"d":"2019-05-18","s":390,"m":253,"b":-137,"r":157,"rb":-35,"rr":40,"c":96},
      {"d":"2019-05-19","s":190,"m":190,"b":0,"r":53,"rb":0,"rr":28,"c":97},
      {"d":"2019-05-20","s":250,"m":220,"b":-30,"r":67,"rb":-12,"rr":27,"c":90},
      {"d":"2019-05-21","s":166,"m":150,"b":-16,"r":53,"rb":-10,"rr":32,"c":95},
      {"d":"2019-05-22","s":334,"m":290,"b":-44,"r":83,"rb":-13,"rr":25,"c":98},
      {"d":"2019-05-23","s":438,"m":350,"b":-88,"r":121,"rb":-20,"rr":28,"c":99},
      {"d":"2019-05-24","s":430,"m":326,"b":-104,"r":132,"rb":-24,"rr":31,"c":99},
      {"d":"2019-05-25","s":326,"m":278,"b":-48,"r":84,"rb":-15,"rr":26,"c":98},
      {"d":"2019-05-26","s":174,"m":174,"b":0,"r":51,"rb":0,"rr":29,"c":96},
      {"d":"2019-05-27","s":326,"m":282,"b":-44,"r":82,"rb":-13,"rr":25,"c":98},
      {"d":"2019-05-28","s":458,"m":390,"b":-68,"r":109,"rb":-15,"rr":24,"c":99},
      {"d":"2019-05-29","s":462,"m":382,"b":-80,"r":117,"rb":-17,"rr":25,"c":100},
      {"d":"2019-05-30","s":362,"m":306,"b":-56,"r":92,"rb":-15,"rr":25,"c":99},
      {"d":"2019-05-31","s":426,"m":342,"b":-84,"r":117,"rb":-20,"rr":27,"c":99}
    ],
    "ten": [
      {"d":"2018-03-11","b10":-48,"r10":78,"rb10":-17,"rr10":36},
      {"d":"2018-03-15","b10":-26,"r10":62,"rb10":-15,"rr10":31},
      {"d":"2018-03-19","b10":-30,"r10":52,"rb10":-14,"rr10":31},
      {"d":"2018-03-23","b10":-42,"r10":62,"rb10":-15,"rr10":27},
      {"d":"2018-03-27","b10":-38,"r10":66,"rb10":-13,"rr10":27},
      {"d":"2018-03-31","b10":-36,"r10":70,"rb10":-10,"rr10":36},
      {"d":"2018-04-04","b10":-30,"r10":80,"rb10":-9,"rr10":41},
      {"d":"2018-04-08","b10":-20,"r10":84,"rb10":-11,"rr10":37},
      {"d":"2018-04-12","b10":-32,"r10":74,"rb10":-14,"rr10":30},
      {"d":"2018-04-16","b10":-44,"r10":84,"rb10":-17,"rr10":32},
      {"d":"2018-04-20","b10":-50,"r10":92,"rb10":-18,"rr10":29},
      {"d":"2018-04-24","b10":-66,"r10":90,"rb10":-18,"rr10":25},
      {"d":"2018-04-28","b10":-40,"r10":82,"rb10":-14,"rr10":24},
      {"d":"2018-05-02","b10":-20,"r10":72,"rb10":-8,"rr10":28},
      {"d":"2018-05-06","b10":-38,"r10":76,"rb10":-10,"rr10":25},
      {"d":"2018-05-10","b10":-58,"r10":80,"rb10":-14,"rr10":21},
      {"d":"2018-05-14","b10":-66,"r10":82,"rb10":-16,"rr10":22},
      {"d":"2018-05-18","b10":-58,"r10":90,"rb10":-16,"rr10":25},
      {"d":"2018-05-22","b10":-55,"r10":100,"rb10":-16,"rr10":28},
      {"d":"2018-05-26","b10":-60,"r10":108,"rb10":-15,"rr10":31},
      {"d":"2018-05-30","b10":-70,"r10":114,"rb10":-17,"rr10":30},
      {"d":"2018-06-03","b10":-58,"r10":106,"rb10":-19,"rr10":28},
      {"d":"2018-06-07","b10":-52,"r10":94,"rb10":-17,"rr10":27},
      {"d":"2018-06-11","b10":-50,"r10":86,"rb10":-18,"rr10":28},
      {"d":"2018-06-15","b10":-52,"r10":94,"rb10":-19,"rr10":33},
      {"d":"2018-06-19","b10":-56,"r10":104,"rb10":-20,"rr10":37},
      {"d":"2018-06-23","b10":-56,"r10":110,"rb10":-17,"rr10":35},
      {"d":"2018-06-27","b10":-50,"r10":96,"rb10":-16,"rr10":29},
      {"d":"2018-07-01","b10":-58,"r10":92,"rb10":-15,"rr10":25},
      {"d":"2018-07-05","b10":-66,"r10":90,"rb10":-14,"rr10":21},
      {"d":"2018-07-09","b10":-60,"r10":84,"rb10":-13,"rr10":22},
      {"d":"2018-07-13","b10":-52,"r10":84,"rb10":-14,"rr10":23},
      {"d":"2018-07-17","b10":-46,"r10":86,"rb10":-15,"rr10":23},
      {"d":"2018-07-21","b10":-52,"r10":86,"rb10":-16,"rr10":23},
      {"d":"2018-07-25","b10":-62,"r10":92,"rb10":-17,"rr10":23},
      {"d":"2018-07-29","b10":-66,"r10":96,"rb10":-17,"rr10":23},
      {"d":"2018-08-02","b10":-55,"r10":90,"rb10":-16,"rr10":23},
      {"d":"2018-08-06","b10":-52,"r10":84,"rb10":-15,"rr10":23},
      {"d":"2018-08-10","b10":-50,"r10":86,"rb10":-15,"rr10":24},
      {"d":"2018-08-14","b10":-46,"r10":98,"rb10":-14,"rr10":29},
      {"d":"2018-08-18","b10":-36,"r10":95,"rb10":-13,"rr10":35},
      {"d":"2018-08-22","b10":-30,"r10":94,"rb10":-12,"rr10":36},
      {"d":"2018-08-26","b10":-25,"r10":94,"rb10":-10,"rr10":37},
      {"d":"2018-08-30","b10":-22,"r10":90,"rb10":-8,"rr10":34},
      {"d":"2018-09-03","b10":-36,"r10":82,"rb10":-10,"rr10":31},
      {"d":"2018-09-07","b10":-44,"r10":86,"rb10":-14,"rr10":31},
      {"d":"2018-09-11","b10":-44,"r10":84,"rb10":-17,"rr10":34},
      {"d":"2018-09-15","b10":-22,"r10":74,"rb10":-13,"rr10":33},
      {"d":"2018-09-19","b10":-18,"r10":64,"rb10":-9,"rr10":30},
      {"d":"2018-09-23","b10":-20,"r10":58,"rb10":-11,"rr10":27},
      {"d":"2018-09-27","b10":-25,"r10":64,"rb10":-13,"rr10":28},
      {"d":"2018-10-01","b10":-30,"r10":70,"rb10":-15,"rr10":29},
      {"d":"2018-10-05","b10":-34,"r10":68,"rb10":-16,"rr10":29},
      {"d":"2018-10-09","b10":-38,"r10":66,"rb10":-18,"rr10":28},
      {"d":"2018-10-13","b10":-46,"r10":66,"rb10":-21,"rr10":27},
      {"d":"2018-10-17","b10":-54,"r10":86,"rb10":-20,"rr10":36},
      {"d":"2018-10-21","b10":-46,"r10":84,"rb10":-16,"rr10":41},
      {"d":"2018-10-25","b10":-32,"r10":56,"rb10":-13,"rr10":45},
      {"d":"2018-10-29","b10":-18,"r10":48,"rb10":-13,"rr10":42},
      {"d":"2018-11-02","b10":-20,"r10":48,"rb10":-16,"rr10":39},
      {"d":"2018-11-06","b10":-26,"r10":46,"rb10":-19,"rr10":38},
      {"d":"2018-11-10","b10":-30,"r10":44,"rb10":-19,"rr10":37},
      {"d":"2018-11-14","b10":-25,"r10":42,"rb10":-20,"rr10":37},
      {"d":"2018-11-18","b10":-22,"r10":41,"rb10":-20,"rr10":38},
      {"d":"2018-11-22","b10":-18,"r10":38,"rb10":-16,"rr10":39},
      {"d":"2018-11-26","b10":-10,"r10":34,"rb10":-12,"rr10":44},
      {"d":"2018-11-30","b10":-7,"r10":31,"rb10":-9,"rr10":50},
      {"d":"2018-12-04","b10":-6,"r10":29,"rb10":-10,"rr10":47},
      {"d":"2018-12-08","b10":-8,"r10":28,"rb10":-11,"rr10":44},
      {"d":"2018-12-12","b10":-7,"r10":25,"rb10":-11,"rr10":42},
      {"d":"2018-12-16","b10":-5,"r10":22,"rb10":-12,"rr10":40},
      {"d":"2018-12-20","b10":-3,"r10":19,"rb10":-6,"rr10":38},
      {"d":"2018-12-24","b10":1,"r10":16,"rb10":4,"rr10":37},
      {"d":"2018-12-28","b10":4,"r10":18,"rb10":12,"rr10":44},
      {"d":"2019-01-01","b10":4,"r10":22,"rb10":9,"rr10":50},
      {"d":"2019-01-05","b10":-2,"r10":27,"rb10":-3,"rr10":56},
      {"d":"2019-01-09","b10":-2,"r10":28,"rb10":-14,"rr10":44},
      {"d":"2019-01-13","b10":-1,"r10":30,"rb10":-8,"rr10":44},
      {"d":"2019-01-17","b10":0,"r10":32,"rb10":1,"rr10":43},
      {"d":"2019-01-21","b10":-5,"r10":37,"rb10":-5,"rr10":40},
      {"d":"2019-01-25","b10":-5,"r10":36,"rb10":-9,"rr10":39},
      {"d":"2019-01-29","b10":-4,"r10":33,"rb10":-8,"rr10":39},
      {"d":"2019-02-02","b10":-4,"r10":32,"rb10":-7,"rr10":39},
      {"d":"2019-02-06","b10":-8,"r10":38,"rb10":-7,"rr10":40},
      {"d":"2019-02-10","b10":-6,"r10":42,"rb10":-8,"rr10":40},
      {"d":"2019-02-14","b10":-9,"r10":42,"rb10":-12,"rr10":36},
      {"d":"2019-02-18","b10":-18,"r10":44,"rb10":-17,"rr10":30},
      {"d":"2019-02-22","b10":-30,"r10":46,"rb10":-19,"rr10":26},
      {"d":"2019-02-26","b10":-36,"r10":52,"rb10":-19,"rr10":27},
      {"d":"2019-03-02","b10":-32,"r10":58,"rb10":-18,"rr10":29},
      {"d":"2019-03-06","b10":-24,"r10":63,"rb10":-16,"rr10":36},
      {"d":"2019-03-10","b10":-18,"r10":66,"rb10":-13,"rr10":44},
      {"d":"2019-03-14","b10":-12,"r10":64,"rb10":-8,"rr10":46},
      {"d":"2019-03-18","b10":-10,"r10":60,"rb10":-8,"rr10":38},
      {"d":"2019-03-22","b10":-20,"r10":55,"rb10":-10,"rr10":29},
      {"d":"2019-03-26","b10":-26,"r10":58,"rb10":-12,"rr10":24},
      {"d":"2019-03-30","b10":-32,"r10":62,"rb10":-14,"rr10":23},
      {"d":"2019-04-03","b10":-38,"r10":68,"rb10":-14,"rr10":25},
      {"d":"2019-04-07","b10":-42,"r10":76,"rb10":-14,"rr10":26},
      {"d":"2019-04-11","b10":-38,"r10":84,"rb10":-13,"rr10":27},
      {"d":"2019-04-15","b10":-30,"r10":88,"rb10":-13,"rr10":26},
      {"d":"2019-04-19","b10":-40,"r10":85,"rb10":-12,"rr10":23},
      {"d":"2019-04-23","b10":-44,"r10":78,"rb10":-10,"rr10":19},
      {"d":"2019-04-27","b10":-36,"r10":78,"rb10":-7,"rr10":22},
      {"d":"2019-05-01","b10":-12,"r10":82,"rb10":-4,"rr10":28},
      {"d":"2019-05-05","b10":-18,"r10":86,"rb10":-6,"rr10":33},
      {"d":"2019-05-09","b10":-30,"r10":92,"rb10":-10,"rr10":33},
      {"d":"2019-05-13","b10":-52,"r10":100,"rb10":-14,"rr10":31},
      {"d":"2019-05-17","b10":-64,"r10":108,"rb10":-17,"rr10":29},
      {"d":"2019-05-21","b10":-54,"r10":108,"rb10":-16,"rr10":31},
      {"d":"2019-05-25","b10":-50,"r10":98,"rb10":-15,"rr10":34},
      {"d":"2019-05-29","b10":-44,"r10":92,"rb10":-15,"rr10":30},
      {"d":"2019-05-31","b10":-58,"r10":104,"rb10":-17,"rr10":27}
    ]
  },
  "resolve": {"scale": {"color": "independent", "x": "independent", "y": "independent"}, "legend": {"color": "independent"}},
  "vconcat": [
    {
      "width": 1352,
      "height": 297,
      "title": {"text": "HOORN (The Netherlands) - CAMS-RAD - Hourly Global horizontal irradiance \u00a0- 2018-Mar to 2019-May", "fontSize": 13, "fontWeight": "normal", "anchor": "middle", "frame": "group", "offset": 6, "color": "#000000"},
      "layer": [
        {
          "data": {"name": "daily"},
          "transform": [{"fold": ["s", "m", "b", "r"], "as": ["key", "v"]}],
          "mark": {"type": "line", "strokeWidth": 0.8, "opacity": 0.8, "clip": true, "point": {"size": 3, "opacity": 0.8}},
          "encoding": {
            "x": {"field": "d", "type": "temporal", "scale": {"type": "utc", "domain": [{"year": 2018, "month": 3, "date": 1, "utc": true}, {"year": 2019, "month": 6, "date": 5, "hours": 19, "utc": true}]}, "axis": null},
            "y": {"field": "v", "type": "quantitative", "scale": {"domain": [-160, 552], "nice": false, "zero": false}, "axis": {"values": [-100, 0, 100, 200, 300, 400, 500], "title": "GHI moving average (W/m²)", "titlePadding": 8, "labelPadding": 3, "labelOverlap": false}},
            "color": {
              "field": "key", "type": "nominal",
              "scale": {"domain": ["s", "m", "b", "b10", "r", "r10"], "range": ["#ff0000", "#0000ff", "#00ff00", "#006400", "#d2b48c", "#d2691e"]},
              "legend": {"orient": "top-left", "offset": 3, "title": null, "labelFontSize": 8, "symbolType": "stroke", "symbolSize": 250, "symbolStrokeWidth": 1.2, "fillColor": "#ffffff", "strokeColor": "#bbbbbb", "padding": 4, "rowPadding": 3.5, "labelLimit": 200,
                "labelExpr": "datum.label == 's' ? '1d Station (W/m²)' : datum.label == 'm' ? '1d Model (W/m²)' : datum.label == 'b' ? '1d bias (W/m²)' : datum.label == 'b10' ? '10d bias (W/m²)' : datum.label == 'r' ? '1d RMSE (W/m²)' : '10d RMSE (W/m²)'"}
            }
          }
        },
        {
          "data": {"name": "ten"},
          "transform": [{"fold": ["b10", "r10"], "as": ["key", "v"]}],
          "mark": {"type": "line", "strokeWidth": 0.9, "opacity": 0.85, "clip": true, "point": {"size": 3, "opacity": 0.85}},
          "encoding": {
            "x": {"field": "d", "type": "temporal"},
            "y": {"field": "v", "type": "quantitative"},
            "color": {"field": "key", "type": "nominal"}
          }
        },
        {
          "data": {"values": [{}]},
          "mark": {"type": "rule", "color": "#9a9a9a", "strokeDash": [6, 4], "strokeWidth": 1},
          "encoding": {"y": {"datum": 0, "type": "quantitative"}}
        }
      ]
    },
    {
      "width": 1352,
      "height": 148,
      "transform": [],
      "layer": [
        {
          "data": {"name": "daily"},
          "transform": [{"fold": ["rb", "rr", "c"], "as": ["key", "v"]}],
          "mark": {"type": "line", "strokeWidth": 0.8, "opacity": 0.8, "clip": true},
          "encoding": {
            "x": {"field": "d", "type": "temporal", "scale": {"type": "utc", "domain": [{"year": 2018, "month": 3, "date": 1, "utc": true}, {"year": 2019, "month": 6, "date": 5, "hours": 19, "utc": true}]},
              "axis": {"title": null, "labelExpr": "utcFormat(datum.value, '%Y %b %-d')", "labelAngle": -45, "labelAlign": "center", "labelBaseline": "middle", "labelPadding": 25, "labelOverlap": false, "labelFontSize": 11,
                "values": [
                  {"year": 2018, "month": 3, "date": 1, "utc": true}, {"year": 2018, "month": 4, "date": 1, "utc": true}, {"year": 2018, "month": 5, "date": 1, "utc": true},
                  {"year": 2018, "month": 6, "date": 1, "utc": true}, {"year": 2018, "month": 7, "date": 1, "utc": true}, {"year": 2018, "month": 8, "date": 1, "utc": true},
                  {"year": 2018, "month": 9, "date": 1, "utc": true}, {"year": 2018, "month": 10, "date": 1, "utc": true}, {"year": 2018, "month": 11, "date": 1, "utc": true},
                  {"year": 2018, "month": 12, "date": 1, "utc": true}, {"year": 2019, "month": 1, "date": 1, "utc": true}, {"year": 2019, "month": 2, "date": 1, "utc": true},
                  {"year": 2019, "month": 3, "date": 1, "utc": true}, {"year": 2019, "month": 4, "date": 1, "utc": true}, {"year": 2019, "month": 5, "date": 1, "utc": true},
                  {"year": 2019, "month": 6, "date": 1, "utc": true}
                ]}},
            "y": {"field": "v", "type": "quantitative", "scale": {"domain": [-60, 118], "nice": false, "zero": false}, "axis": {"values": [-60, -40, -20, 0, 20, 40, 60, 80, 100], "title": "(%)", "titleAngle": 0, "titleX": -38, "titleY": 68, "titleAlign": "center", "titleBaseline": "middle", "labelPadding": 3, "labelOverlap": false}},
            "color": {
              "field": "key", "type": "nominal",
              "scale": {"domain": ["rb", "rr", "c"], "range": ["#00ff00", "#d2b48c", "#cc33cc"]},
              "legend": {"orient": "bottom-left", "offset": 4, "title": null, "labelFontSize": 8, "symbolType": "stroke", "symbolSize": 250, "symbolStrokeWidth": 1.2, "fillColor": "#ffffff", "strokeColor": "#bbbbbb", "padding": 4, "rowPadding": 3.5, "labelLimit": 200,
                "labelExpr": "datum.label == 'rb' ? 'rBias (%)' : datum.label == 'rr' ? 'rRSME (%)' : 'Corr. coeff. (%)'"}
            }
          }
        },
        {
          "data": {"name": "ten"},
          "mark": {"type": "line", "color": "#006400", "strokeWidth": 0.9, "opacity": 0.85, "clip": true, "point": {"size": 3, "color": "#006400", "opacity": 0.85}},
          "encoding": {"x": {"field": "d", "type": "temporal"}, "y": {"field": "rb10", "type": "quantitative", "axis": {"values": [-60, -40, -20, 0, 20, 40, 60, 80, 100], "title": "(%)", "titleAngle": 0, "titleX": -38, "titleY": 68, "titleAlign": "center", "titleBaseline": "middle", "labelPadding": 3, "labelOverlap": false}}}
        },
        {
          "data": {"name": "ten"},
          "mark": {"type": "line", "color": "#d2691e", "strokeWidth": 0.9, "opacity": 0.85, "clip": true, "point": {"size": 3, "color": "#d2691e", "opacity": 0.85}},
          "encoding": {"x": {"field": "d", "type": "temporal"}, "y": {"field": "rr10", "type": "quantitative", "axis": {"values": [-60, -40, -20, 0, 20, 40, 60, 80, 100], "title": "(%)", "titleAngle": 0, "titleX": -38, "titleY": 68, "titleAlign": "center", "titleBaseline": "middle", "labelPadding": 3, "labelOverlap": false}}}
        },
        {
          "data": {"values": [{}]},
          "mark": {"type": "rule", "color": "#9a9a9a", "strokeDash": [6, 4], "strokeWidth": 1},
          "encoding": {"y": {"datum": 0, "type": "quantitative", "axis": {"values": [-60, -40, -20, 0, 20, 40, 60, 80, 100], "title": "(%)", "titleAngle": 0, "titleX": -38, "titleY": 68, "titleAlign": "center", "titleBaseline": "middle", "labelPadding": 3, "labelOverlap": false}}}
        }
      ]
    }
  ]
}
